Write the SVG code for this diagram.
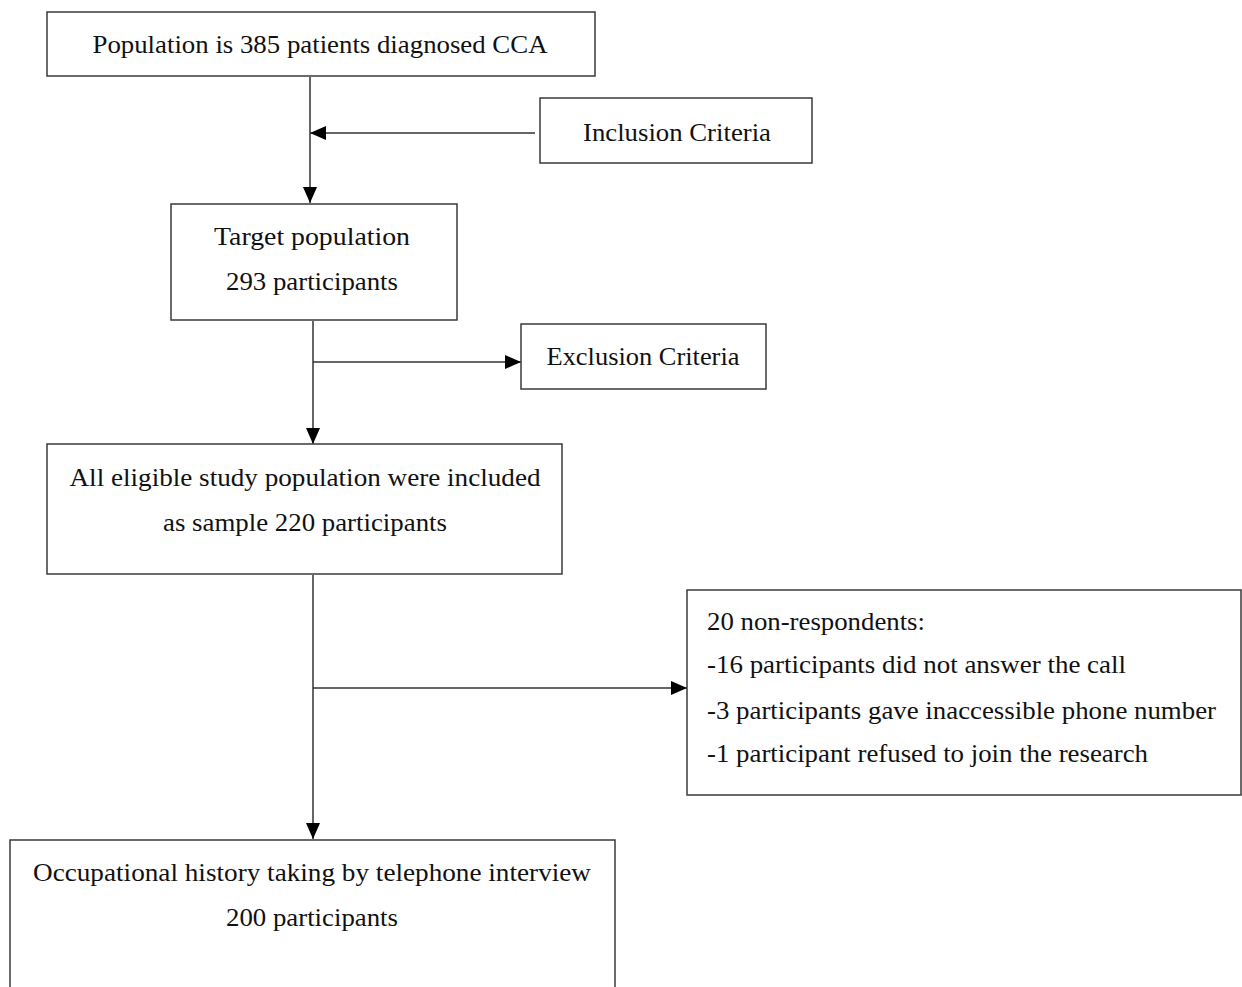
<svg xmlns="http://www.w3.org/2000/svg" width="1242" height="987" viewBox="0 0 1242 987">
<style>
.box{fill:#fff;stroke:#3a3a3a;stroke-width:1.5}
.t{font-family:"Liberation Serif","DejaVu Serif",serif;font-size:26px;fill:#111}
.c{text-anchor:middle}
.ln{stroke:#333;stroke-width:1.5;fill:none}
</style>
<defs>
<marker id="ah" markerWidth="16" markerHeight="14" refX="16" refY="7" orient="auto" markerUnits="userSpaceOnUse">
<path d="M0,0 L16,7 L0,14 Z" fill="#000"/>
</marker>
</defs>
<rect width="1242" height="987" fill="#fff"/>
<g id="connectors">
<line class="ln" x1="310" y1="77" x2="310" y2="203" marker-end="url(#ah)"/>
<line class="ln" x1="535" y1="133" x2="310" y2="133" marker-end="url(#ah)"/>
<line class="ln" x1="313" y1="321" x2="313" y2="444" marker-end="url(#ah)"/>
<line class="ln" x1="313" y1="362" x2="521" y2="362" marker-end="url(#ah)"/>
<line class="ln" x1="313" y1="575" x2="313" y2="839" marker-end="url(#ah)"/>
<line class="ln" x1="313" y1="688" x2="687" y2="688" marker-end="url(#ah)"/>
</g>
<g id="n-population">
<rect class="box" x="47" y="12" width="548" height="64"/>
<text class="t c" x="320" y="53" textLength="455" lengthAdjust="spacingAndGlyphs">Population is 385 patients diagnosed CCA</text>
</g>
<g id="n-inclusion">
<rect class="box" x="540" y="98" width="272" height="65"/>
<text class="t c" x="677" y="141" textLength="188" lengthAdjust="spacingAndGlyphs">Inclusion Criteria</text>
</g>
<g id="n-target">
<rect class="box" x="171" y="204" width="286" height="116"/>
<text class="t c" x="312" y="245" textLength="196" lengthAdjust="spacingAndGlyphs">Target population</text>
<text class="t c" x="312" y="290" textLength="172" lengthAdjust="spacingAndGlyphs">293 participants</text>
</g>
<g id="n-exclusion">
<rect class="box" x="521" y="324" width="245" height="65"/>
<text class="t c" x="643" y="365" textLength="193" lengthAdjust="spacingAndGlyphs">Exclusion Criteria</text>
</g>
<g id="n-eligible">
<rect class="box" x="47" y="444" width="515" height="130"/>
<text class="t c" x="305" y="486" textLength="471" lengthAdjust="spacingAndGlyphs">All eligible study population were included</text>
<text class="t c" x="305" y="531" textLength="284" lengthAdjust="spacingAndGlyphs">as sample 220 participants</text>
</g>
<g id="n-nonresp">
<rect class="box" x="687" y="590" width="554" height="205"/>
<text class="t" x="707" y="630" textLength="218" lengthAdjust="spacingAndGlyphs">20 non-respondents:</text>
<text class="t" x="707" y="673" textLength="419" lengthAdjust="spacingAndGlyphs">-16 participants did not answer the call</text>
<text class="t" x="707" y="719" textLength="509" lengthAdjust="spacingAndGlyphs">-3 participants gave inaccessible phone number</text>
<text class="t" x="707" y="762" textLength="441" lengthAdjust="spacingAndGlyphs">-1 participant refused to join the research</text>
</g>
<g id="n-occupational">
<rect class="box" x="10" y="840" width="605" height="170"/>
<text class="t c" x="312" y="881" textLength="558" lengthAdjust="spacingAndGlyphs">Occupational history taking by telephone interview</text>
<text class="t c" x="312" y="926" textLength="172" lengthAdjust="spacingAndGlyphs">200 participants</text>
</g>
</svg>
